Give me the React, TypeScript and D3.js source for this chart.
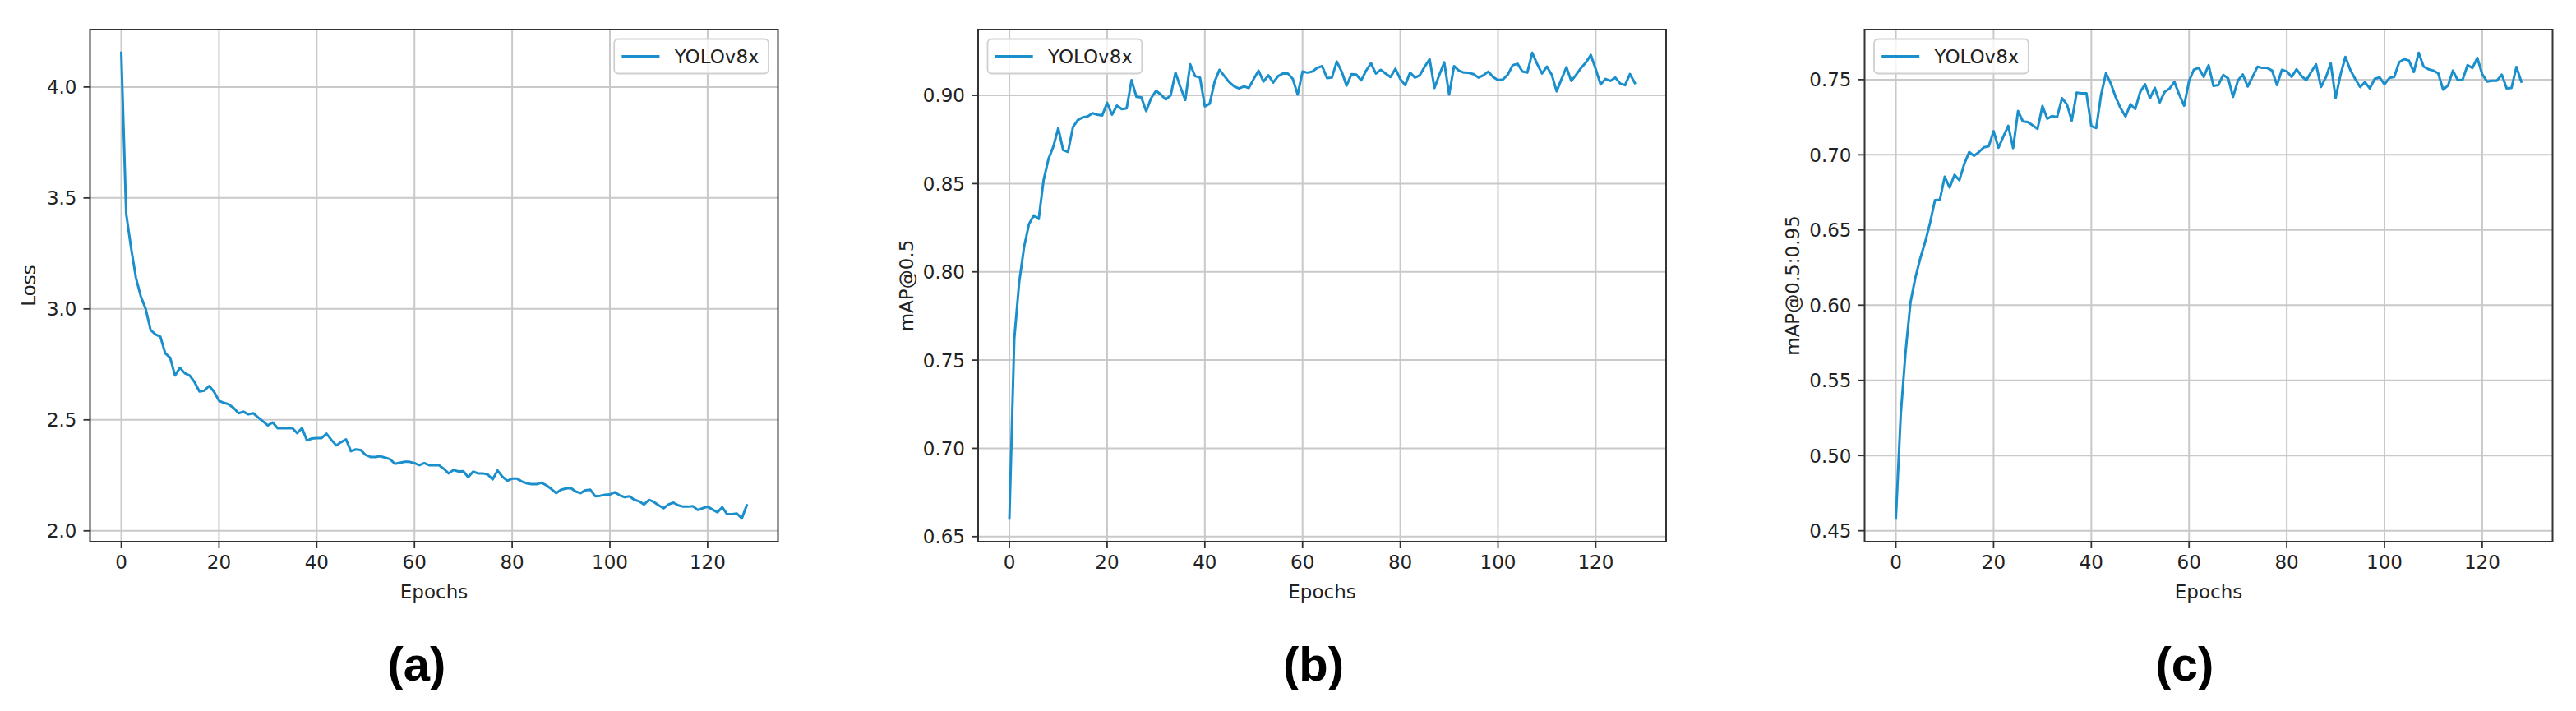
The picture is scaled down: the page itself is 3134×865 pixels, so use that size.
import React from "react";
import * as d3 from "d3";

const epochs: number[] = Array.from({ length: 129 }, (_, i) => i);

const lossValues: number[] = [
  4.154, 3.43, 3.276, 3.14, 3.056, 3.0, 2.905, 2.885, 2.875, 2.8,
  2.78, 2.7, 2.735, 2.71, 2.7, 2.67, 2.628, 2.632, 2.653, 2.626,
  2.586, 2.577, 2.57, 2.554, 2.53, 2.537, 2.525, 2.53, 2.511, 2.493,
  2.475, 2.488, 2.462, 2.462, 2.462, 2.463, 2.44, 2.463, 2.407, 2.416,
  2.418, 2.418, 2.438, 2.41, 2.385, 2.4, 2.412, 2.359, 2.367, 2.364,
  2.342, 2.333, 2.333, 2.336, 2.33, 2.323, 2.302, 2.307, 2.311, 2.311,
  2.305, 2.296, 2.305, 2.296, 2.296, 2.296, 2.28, 2.259, 2.274, 2.268,
  2.269, 2.242, 2.267, 2.259, 2.259, 2.254, 2.232, 2.272, 2.244, 2.226,
  2.235, 2.235, 2.222, 2.214, 2.21, 2.21, 2.217, 2.205, 2.189, 2.17,
  2.185, 2.191, 2.193, 2.177, 2.17, 2.183, 2.185, 2.156, 2.158, 2.162,
  2.164, 2.174, 2.16, 2.152, 2.156, 2.14, 2.133, 2.119, 2.14, 2.13,
  2.115, 2.102, 2.119, 2.127, 2.115, 2.109, 2.109, 2.111, 2.094, 2.102,
  2.109, 2.096, 2.084, 2.106, 2.075, 2.075, 2.078, 2.056, 2.115,
];

const map50Values: number[] = [
  0.6603, 0.762, 0.794, 0.814, 0.827, 0.832, 0.83, 0.852, 0.864, 0.871,
  0.8815, 0.869, 0.868, 0.882, 0.886, 0.8876, 0.888, 0.8899, 0.8891, 0.8886,
  0.8958, 0.8891, 0.8942, 0.8922, 0.8927, 0.9086, 0.8992, 0.8989, 0.8911, 0.8984,
  0.9026, 0.9005, 0.8977, 0.9, 0.9129, 0.9047, 0.8974, 0.9176, 0.9109, 0.9101,
  0.8938, 0.8953, 0.9078, 0.9145, 0.9109, 0.9075, 0.9051, 0.9039, 0.9051, 0.9042,
  0.9093, 0.914, 0.9078, 0.9114, 0.9073, 0.9109, 0.9124, 0.9124, 0.9093, 0.9005,
  0.9135, 0.9129, 0.9135, 0.9156, 0.9166, 0.9098, 0.9101, 0.9192, 0.9135, 0.9055,
  0.912, 0.9118, 0.9085, 0.914, 0.9182, 0.9124, 0.9145, 0.9124, 0.9104, 0.9151,
  0.9093, 0.9058, 0.9129, 0.9101, 0.9114, 0.9163, 0.9205, 0.9042, 0.9117, 0.9187,
  0.9005, 0.9166, 0.914, 0.9129, 0.9128, 0.912, 0.9101, 0.9114, 0.9135, 0.9104,
  0.9086, 0.909, 0.9117, 0.9171, 0.9179, 0.9135, 0.9129, 0.9241, 0.9179, 0.9124,
  0.9163, 0.9117, 0.9023, 0.9093, 0.916, 0.9082, 0.9117, 0.9156, 0.9187, 0.9229,
  0.9148, 0.9062, 0.9093, 0.9082, 0.9101, 0.9067, 0.9058, 0.9121, 0.907,
];

const map5095Values: number[] = [
  0.4582, 0.5274, 0.5693, 0.602, 0.6184, 0.6312, 0.6421, 0.6548, 0.6698, 0.6701,
  0.6854, 0.6782, 0.6867, 0.6831, 0.694, 0.7018, 0.6993, 0.7018, 0.705, 0.7056,
  0.7157, 0.7047, 0.7122, 0.7193, 0.7045, 0.7291, 0.7222, 0.7218, 0.7196, 0.7173,
  0.7324, 0.724, 0.7258, 0.7251, 0.7376, 0.7336, 0.7227, 0.7413, 0.7409, 0.7409,
  0.7191, 0.7178, 0.74, 0.7542, 0.7473, 0.7382, 0.7309, 0.7255, 0.7336, 0.7305,
  0.7418, 0.7469, 0.7376, 0.7445, 0.7349, 0.7418, 0.744, 0.7485, 0.74, 0.7327,
  0.7491, 0.7567, 0.7578, 0.7518, 0.7596, 0.7458, 0.7464, 0.7531, 0.7509, 0.7385,
  0.7494, 0.7534, 0.7454, 0.7519, 0.7585, 0.7578, 0.7578, 0.756, 0.7464, 0.7565,
  0.7555, 0.7518, 0.7569, 0.7524, 0.7496, 0.7551, 0.7602, 0.7451, 0.7515, 0.7609,
  0.7378, 0.7533, 0.7651, 0.7565, 0.7505, 0.7451, 0.7482, 0.7442, 0.7505, 0.7515,
  0.7469, 0.7511, 0.7518, 0.7615, 0.7636, 0.7627, 0.7551, 0.7678, 0.7587, 0.7569,
  0.756, 0.7542, 0.7433, 0.746, 0.756, 0.7496, 0.75, 0.7596, 0.7578, 0.7645,
  0.7536, 0.7487, 0.7493, 0.7493, 0.7533, 0.7442, 0.7445, 0.7584, 0.7487,
];

const xTicks: number[] = [0, 20, 40, 60, 80, 100, 120];
const lossTicks: number[] = [2.0, 2.5, 3.0, 3.5, 4.0];
const map50Ticks: number[] = [0.65, 0.7, 0.75, 0.8, 0.85, 0.9];
const map5095Ticks: number[] = [0.45, 0.5, 0.55, 0.6, 0.65, 0.7, 0.75];

const seriesName = "YOLOv8x";
const xLabel = "Epochs";

const LINE_COLOR = "#1a8fcc";
const GRID_COLOR = "#c9c9c9";
const AXIS_COLOR = "#333333";
const TEXT_COLOR = "#222222";
const FS = 23;

interface PanelProps {
  left: number;
  values: number[];
  yTicks: number[];
  yFormat: string;
  yLabel: string;
  yLabelX: number;
  legendRight: boolean;
  title: string;
  titleX: number;
}

const TOP = 36;
const BOTTOM = 659;
const WIDTH = 837;

function Panel(p: PanelProps) {
  const right = p.left + WIDTH;
  const x = d3.scaleLinear().domain([-6.4, 134.4]).range([p.left, right]);
  const [mn, mx] = d3.extent(p.values) as [number, number];
  const pad = (mx - mn) * 0.05;
  const y = d3.scaleLinear().domain([mn - pad, mx + pad]).range([BOTTOM, TOP]);
  const line = d3
    .line<number>()
    .x((_, i) => x(epochs[i]))
    .y((d) => y(d));
  const fmt = d3.format(p.yFormat);

  const textW = 105;
  const boxW = 0.4 * FS + 2 * FS + 0.8 * FS + textW + 0.4 * FS;
  const boxH = 42;
  const boxX = p.legendRight ? right - 11.5 - boxW : p.left + 11.5;
  const boxY = TOP + 11.5;
  const cy = boxY + boxH / 2;

  return (
    <g>
      <rect x={p.left} y={TOP} width={WIDTH} height={BOTTOM - TOP} fill="#ffffff" />
      {xTicks.map((t) => (
        <line key={"gx" + t} x1={x(t)} x2={x(t)} y1={TOP} y2={BOTTOM} stroke={GRID_COLOR} strokeWidth={2} />
      ))}
      {p.yTicks.map((t) => (
        <line key={"gy" + t} x1={p.left} x2={right} y1={y(t)} y2={y(t)} stroke={GRID_COLOR} strokeWidth={2} />
      ))}
      <path d={line(p.values) || ""} fill="none" stroke={LINE_COLOR} strokeWidth={3} strokeLinejoin="round" strokeLinecap="square" />
      <rect x={p.left} y={TOP} width={WIDTH} height={BOTTOM - TOP} fill="none" stroke={AXIS_COLOR} strokeWidth={2} />
      {xTicks.map((t) => (
        <g key={"tx" + t}>
          <line x1={x(t)} x2={x(t)} y1={BOTTOM} y2={BOTTOM + 8} stroke={AXIS_COLOR} strokeWidth={1.8} />
          <text x={x(t)} y={BOTTOM + 33} textAnchor="middle" fontSize={FS} fill={TEXT_COLOR} fontFamily="DejaVu Sans">
            {t}
          </text>
        </g>
      ))}
      {p.yTicks.map((t) => (
        <g key={"ty" + t}>
          <line x1={p.left - 8} x2={p.left} y1={y(t)} y2={y(t)} stroke={AXIS_COLOR} strokeWidth={1.8} />
          <text x={p.left - 16} y={y(t) + 8.4} textAnchor="end" fontSize={FS} fill={TEXT_COLOR} fontFamily="DejaVu Sans">
            {fmt(t)}
          </text>
        </g>
      ))}
      <text x={(p.left + right) / 2} y={728} textAnchor="middle" fontSize={FS} fill={TEXT_COLOR} fontFamily="DejaVu Sans">
        {xLabel}
      </text>
      <text
        transform={`translate(${p.yLabelX},${(TOP + BOTTOM) / 2}) rotate(-90)`}
        textAnchor="middle"
        fontSize={FS}
        fill={TEXT_COLOR}
        fontFamily="DejaVu Sans"
      >
        {p.yLabel}
      </text>
      <rect x={boxX} y={boxY} width={boxW} height={boxH} rx={5} ry={5} fill="#ffffff" fillOpacity={0.8} stroke="#d0d0d0" strokeWidth={1.8} />
      <line x1={boxX + 0.4 * FS} x2={boxX + 2.4 * FS} y1={cy} y2={cy} stroke={LINE_COLOR} strokeWidth={3} />
      <text x={boxX + 3.2 * FS} y={cy + 8.4} fontSize={FS} fill={TEXT_COLOR} fontFamily="DejaVu Sans">
        {seriesName}
      </text>
      <text x={p.titleX} y={828} textAnchor="middle" fontSize={58} fontWeight="bold" fill="#000000" fontFamily="Liberation Sans, Arial, sans-serif">
        {p.title}
      </text>
    </g>
  );
}

export default function App() {
  return (
    <div style={{ position: "absolute", left: 0, top: 0, width: 3134, height: 865, background: "#ffffff" }}>
      <svg width={3134} height={865} viewBox="0 0 3134 865" style={{ display: "block" }}>
        <rect x={0} y={0} width={3134} height={865} fill="#ffffff" />
        <Panel left={109.5} values={lossValues} yTicks={lossTicks} yFormat=".1f" yLabel="Loss" yLabelX={43} legendRight={true} title="(a)" titleX={507} />
        <Panel left={1190} values={map50Values} yTicks={map50Ticks} yFormat=".2f" yLabel="mAP@0.5" yLabelX={1111} legendRight={false} title="(b)" titleX={1598} />
        <Panel left={2268.5} values={map5095Values} yTicks={map5095Ticks} yFormat=".2f" yLabel="mAP@0.5:0.95" yLabelX={2189} legendRight={false} title="(c)" titleX={2658} />
      </svg>
    </div>
  );
}
